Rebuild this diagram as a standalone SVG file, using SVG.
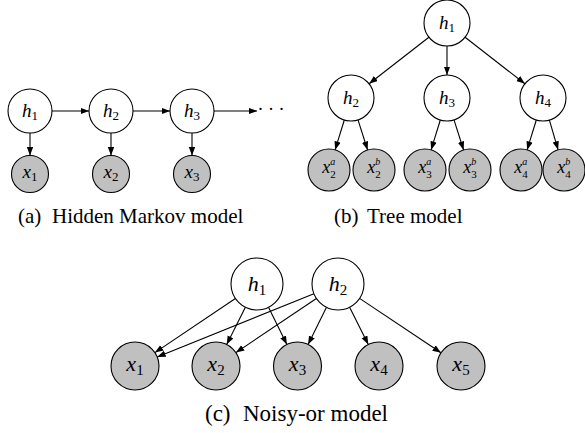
<svg xmlns="http://www.w3.org/2000/svg" width="585" height="433" viewBox="0 0 585 433">
<style>
.h{fill:#fff;stroke:#000;stroke-width:1.1}
.o{fill:#c0c0c0;stroke:#000;stroke-width:1.1}
.e{stroke:#000;stroke-width:1.1;fill:none;marker-end:url(#ah)}
.m{font-family:'Liberation Serif','Times New Roman',serif;font-style:italic;text-anchor:middle;fill:#000}
.n{font-style:normal}
.cap{font-family:'Liberation Serif','Times New Roman',serif;fill:#000}
</style>
<defs>
<marker id="ah" markerUnits="userSpaceOnUse" markerWidth="10" markerHeight="8" refX="8.5" refY="3.2" orient="auto">
<path d="M0,0 L8.5,3.2 L0,6.4 z" fill="#000"/>
</marker>
</defs>

<g id="connectors">
<line class="e" x1="52" y1="111" x2="89" y2="111"/>
<line class="e" x1="133" y1="111" x2="170" y2="111"/>
<line class="e" x1="214" y1="111" x2="257" y2="111"/>
<line class="e" x1="30" y1="133" x2="30" y2="155.5"/>
<line class="e" x1="111" y1="133" x2="111" y2="155.5"/>
<line class="e" x1="192" y1="133" x2="192" y2="155.5"/>
<line class="e" x1="428.9" y1="37.2" x2="369.1" y2="83.8"/>
<line class="e" x1="447" y1="46" x2="447" y2="75"/>
<line class="e" x1="465.1" y1="37.2" x2="524.9" y2="83.8"/>
<line class="e" x1="344.3" y1="120" x2="335.1" y2="149.9"/>
<line class="e" x1="358" y1="119.9" x2="367.6" y2="150"/>
<line class="e" x1="440.3" y1="120" x2="431.1" y2="149.9"/>
<line class="e" x1="454" y1="119.9" x2="463.6" y2="150"/>
<line class="e" x1="536.3" y1="120" x2="527.1" y2="149.9"/>
<line class="e" x1="549.4" y1="120.1" x2="558.1" y2="149.8"/>
<line class="e" x1="235.4" y1="298.5" x2="154.9" y2="352.6"/>
<line class="e" x1="245.4" y1="307.2" x2="226.7" y2="344.5"/>
<line class="e" x1="268.5" y1="307.3" x2="286.9" y2="344.5"/>
<line class="e" x1="313.9" y1="293.7" x2="157.2" y2="357"/>
<line class="e" x1="316.4" y1="298.5" x2="235.9" y2="352.6"/>
<line class="e" x1="326.5" y1="307.3" x2="308.1" y2="344.5"/>
<line class="e" x1="349.6" y1="307.2" x2="368.3" y2="344.5"/>
<line class="e" x1="359.6" y1="298.4" x2="441" y2="352.7"/>
</g>

<g id="a_h1"><circle class="h" cx="30" cy="111" r="22"/><text class="m" x="30" y="117" font-size="19">h<tspan class="n" font-size="13" dy="3">1</tspan></text></g>
<g id="a_h2"><circle class="h" cx="111" cy="111" r="22"/><text class="m" x="111" y="117" font-size="19">h<tspan class="n" font-size="13" dy="3">2</tspan></text></g>
<g id="a_h3"><circle class="h" cx="192" cy="111" r="22"/><text class="m" x="192" y="117" font-size="19">h<tspan class="n" font-size="13" dy="3">3</tspan></text></g>
<g id="a_dots"><text x="271" y="115" font-family="'Liberation Serif',serif" font-size="18" text-anchor="middle">· · ·</text></g>
<g id="a_x1"><circle class="o" cx="30" cy="174" r="18.5"/><text class="m" x="30" y="178" font-size="19">x<tspan class="n" font-size="13" dy="3">1</tspan></text></g>
<g id="a_x2"><circle class="o" cx="111" cy="174" r="18.5"/><text class="m" x="111" y="178" font-size="19">x<tspan class="n" font-size="13" dy="3">2</tspan></text></g>
<g id="a_x3"><circle class="o" cx="192" cy="174" r="18.5"/><text class="m" x="192" y="178" font-size="19">x<tspan class="n" font-size="13" dy="3">3</tspan></text></g>
<text class="cap" font-size="21" y="223"><tspan x="18">(a)</tspan><tspan x="52">Hidden Markov model</tspan></text>

<g id="b_h1"><circle class="h" cx="447" cy="23" r="23"/><text class="m" x="447" y="29" font-size="19">h<tspan class="n" font-size="13" dy="3">1</tspan></text></g>
<g id="b_h2"><circle class="h" cx="351" cy="98" r="23"/><text class="m" x="351" y="104" font-size="19">h<tspan class="n" font-size="13" dy="3">2</tspan></text></g>
<g id="b_h3"><circle class="h" cx="447" cy="98" r="23"/><text class="m" x="447" y="104" font-size="19">h<tspan class="n" font-size="13" dy="3">3</tspan></text></g>
<g id="b_h4"><circle class="h" cx="543" cy="98" r="23"/><text class="m" x="543" y="104" font-size="19">h<tspan class="n" font-size="13" dy="3">4</tspan></text></g>
<g id="b_x2a"><circle class="o" cx="329" cy="170" r="21"/><text class="m" x="329" y="173" font-size="18">x<tspan font-size="10" dy="-8">a</tspan><tspan class="n" font-size="11" dx="-5" dy="13">2</tspan></text></g>
<g id="b_x2b"><circle class="o" cx="374" cy="170" r="21"/><text class="m" x="374" y="173" font-size="18">x<tspan font-size="10" dy="-8">b</tspan><tspan class="n" font-size="11" dx="-5" dy="13">2</tspan></text></g>
<g id="b_x3a"><circle class="o" cx="425" cy="170" r="21"/><text class="m" x="425" y="173" font-size="18">x<tspan font-size="10" dy="-8">a</tspan><tspan class="n" font-size="11" dx="-5" dy="13">3</tspan></text></g>
<g id="b_x3b"><circle class="o" cx="470" cy="170" r="21"/><text class="m" x="470" y="173" font-size="18">x<tspan font-size="10" dy="-8">b</tspan><tspan class="n" font-size="11" dx="-5" dy="13">3</tspan></text></g>
<g id="b_x4a"><circle class="o" cx="521" cy="170" r="21"/><text class="m" x="521" y="173" font-size="18">x<tspan font-size="10" dy="-8">a</tspan><tspan class="n" font-size="11" dx="-5" dy="13">4</tspan></text></g>
<g id="b_x4b"><circle class="o" cx="564" cy="170" r="21"/><text class="m" x="564" y="173" font-size="18">x<tspan font-size="10" dy="-8">b</tspan><tspan class="n" font-size="11" dx="-5" dy="13">4</tspan></text></g>
<text class="cap" font-size="21" y="223"><tspan x="334">(b)</tspan><tspan x="367">Tree model</tspan></text>

<g id="c_h1"><circle class="h" cx="257" cy="284" r="26"/><text class="m" x="257" y="291" font-size="22">h<tspan class="n" font-size="15" dy="3.5">1</tspan></text></g>
<g id="c_h2"><circle class="h" cx="338" cy="284" r="26"/><text class="m" x="338" y="291" font-size="22">h<tspan class="n" font-size="15" dy="3.5">2</tspan></text></g>
<g id="c_x1"><circle class="o" cx="135" cy="366" r="24"/><text class="m" x="135" y="371" font-size="22">x<tspan class="n" font-size="15" dy="3.5">1</tspan></text></g>
<g id="c_x2"><circle class="o" cx="216" cy="366" r="24"/><text class="m" x="216" y="371" font-size="22">x<tspan class="n" font-size="15" dy="3.5">2</tspan></text></g>
<g id="c_x3"><circle class="o" cx="297.5" cy="366" r="24"/><text class="m" x="297.5" y="371" font-size="22">x<tspan class="n" font-size="15" dy="3.5">3</tspan></text></g>
<g id="c_x4"><circle class="o" cx="379" cy="366" r="24"/><text class="m" x="379" y="371" font-size="22">x<tspan class="n" font-size="15" dy="3.5">4</tspan></text></g>
<g id="c_x5"><circle class="o" cx="461" cy="366" r="24"/><text class="m" x="461" y="371" font-size="22">x<tspan class="n" font-size="15" dy="3.5">5</tspan></text></g>
<text class="cap" font-size="23" y="421"><tspan x="205">(c)</tspan><tspan x="243">Noisy-or model</tspan></text>
</svg>
